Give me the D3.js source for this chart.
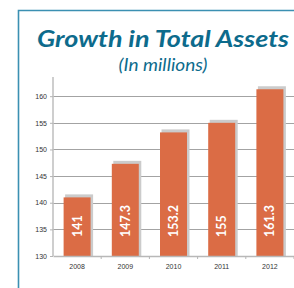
<!DOCTYPE html>
<html>
<head>
<meta charset="utf-8">
<script src="https://d3js.org/d3.v7.min.js"></script>
<style>
  body, html { margin: 0; padding: 0; background: #fff; overflow: hidden; }
  svg { display: block; font-family: Lato, 'Open Sans', sans-serif; }
</style>
</head>
<body>
<svg></svg>
<script>
  // chart data
  const years = ["2008", "2009", "2010", "2011", "2012"];
  const assets = [141, 147.3, 153.2, 155, 161.3];
  const assetLabels = ["141", "147.3", "153.2", "155", "161.3"];
  const yTicks = [130, 135, 140, 145, 150, 155, 160];

  const width = 294;
  const height = 288;
  const marginLeft = 53;
  const marginRight = 0;
  const marginTop = 77;
  const marginBottom = 32;

  const svg = d3.select("svg")
    .attr("width", width)
    .attr("height", height);

  // frame
  svg.append("path")
    .attr("d", `M18.5,${height} V10.5 H${width}`)
    .attr("fill", "none")
    .attr("stroke", "#3b90b2")
    .attr("stroke-width", 1.6);

  // titles
  svg.append("text")
    .attr("x", 163).attr("y", 47)
    .attr("text-anchor", "middle")
    .attr("font-size", 23.5)
    .attr("font-weight", "bold")
    .attr("font-style", "italic")
    .attr("fill", "#0d6b8c")
    .attr("textLength", 252)
    .attr("lengthAdjust", "spacingAndGlyphs")
    .text("Growth in Total Assets");

  svg.append("text")
    .attr("x", 163).attr("y", 71)
    .attr("text-anchor", "middle")
    .attr("font-size", 17)
    .attr("font-style", "italic")
    .attr("fill", "#0d6b8c")
    .attr("textLength", 89)
    .attr("lengthAdjust", "spacingAndGlyphs")
    .text("(In millions)");

  const x = d3.scaleBand()
    .domain(years)
    .range([marginLeft, width - marginRight])
    .paddingInner(0.44)
    .paddingOuter(0.22);

  const y = d3.scaleLinear()
    .domain([130, 163.6])
    .range([height - marginBottom, marginTop]);

  // gridlines
  svg.append("g")
    .selectAll("line")
    .data(yTicks.slice(1))
    .join("line")
      .attr("x1", marginLeft)
      .attr("x2", width)
      .attr("y1", d => Math.round(y(d)) + 0.5)
      .attr("y2", d => Math.round(y(d)) + 0.5)
      .attr("stroke", "#a3a3a3")
      .attr("stroke-width", 1);

  // y axis
  svg.append("g")
    .attr("transform", `translate(${marginLeft},0)`)
    .call(d3.axisLeft(y).tickValues(yTicks).tickSize(3).tickPadding(3))
    .call(g => g.select(".domain").attr("stroke", "#c2c2c2").attr("stroke-width", 1.6)
      .attr("d", `M0,${marginTop}V${height - marginBottom}`))
    .call(g => g.selectAll(".tick line").attr("stroke", "#b5b5b5"))
    .call(g => g.selectAll(".tick text").attr("fill", "#333").attr("font-size", 7));

  const data = years.map((yr, i) => ({ year: yr, value: assets[i], label: assetLabels[i] }));

  // bar shadows
  svg.append("g")
    .selectAll("rect")
    .data(data)
    .join("rect")
      .attr("x", d => x(d.year) + 1.5)
      .attr("y", d => y(d.value) - 3)
      .attr("width", x.bandwidth() + 1)
      .attr("height", d => y(130) - y(d.value) + 3)
      .attr("fill", "#cbcbcb");

  // bars
  svg.append("g")
    .selectAll("rect")
    .data(data)
    .join("rect")
      .attr("x", d => x(d.year))
      .attr("y", d => y(d.value))
      .attr("width", x.bandwidth())
      .attr("height", d => y(130) - y(d.value))
      .attr("fill", "#db6c45");

  // x axis
  svg.append("g")
    .attr("transform", `translate(0,${height - marginBottom})`)
    .call(d3.axisBottom(x).tickSize(0).tickPadding(8))
    .call(g => g.select(".domain").attr("stroke", "#b8b8b8").attr("stroke-width", 1.6))
    .call(g => g.selectAll(".tick text").attr("fill", "#333").attr("font-size", 7));

  // category separator ticks
  svg.append("g")
    .selectAll("line")
    .data(years)
    .join("line")
      .attr("x1", d => x(d) + x.bandwidth() + x.step() * x.paddingInner() / 2)
      .attr("x2", d => x(d) + x.bandwidth() + x.step() * x.paddingInner() / 2)
      .attr("y1", height - marginBottom)
      .attr("y2", height - marginBottom + 3)
      .attr("stroke", "#b5b5b5");

  // value labels
  svg.append("g")
    .selectAll("text")
    .data(data)
    .join("text")
      .attr("transform", d => `translate(${x(d.year) + x.bandwidth() / 2 + 4.5},237) rotate(-90)`)
      .attr("fill", "#fff")
      .attr("font-size", 12.5)
      .attr("font-weight", "bold")
      .text(d => d.label);
</script>
</body>
</html>
